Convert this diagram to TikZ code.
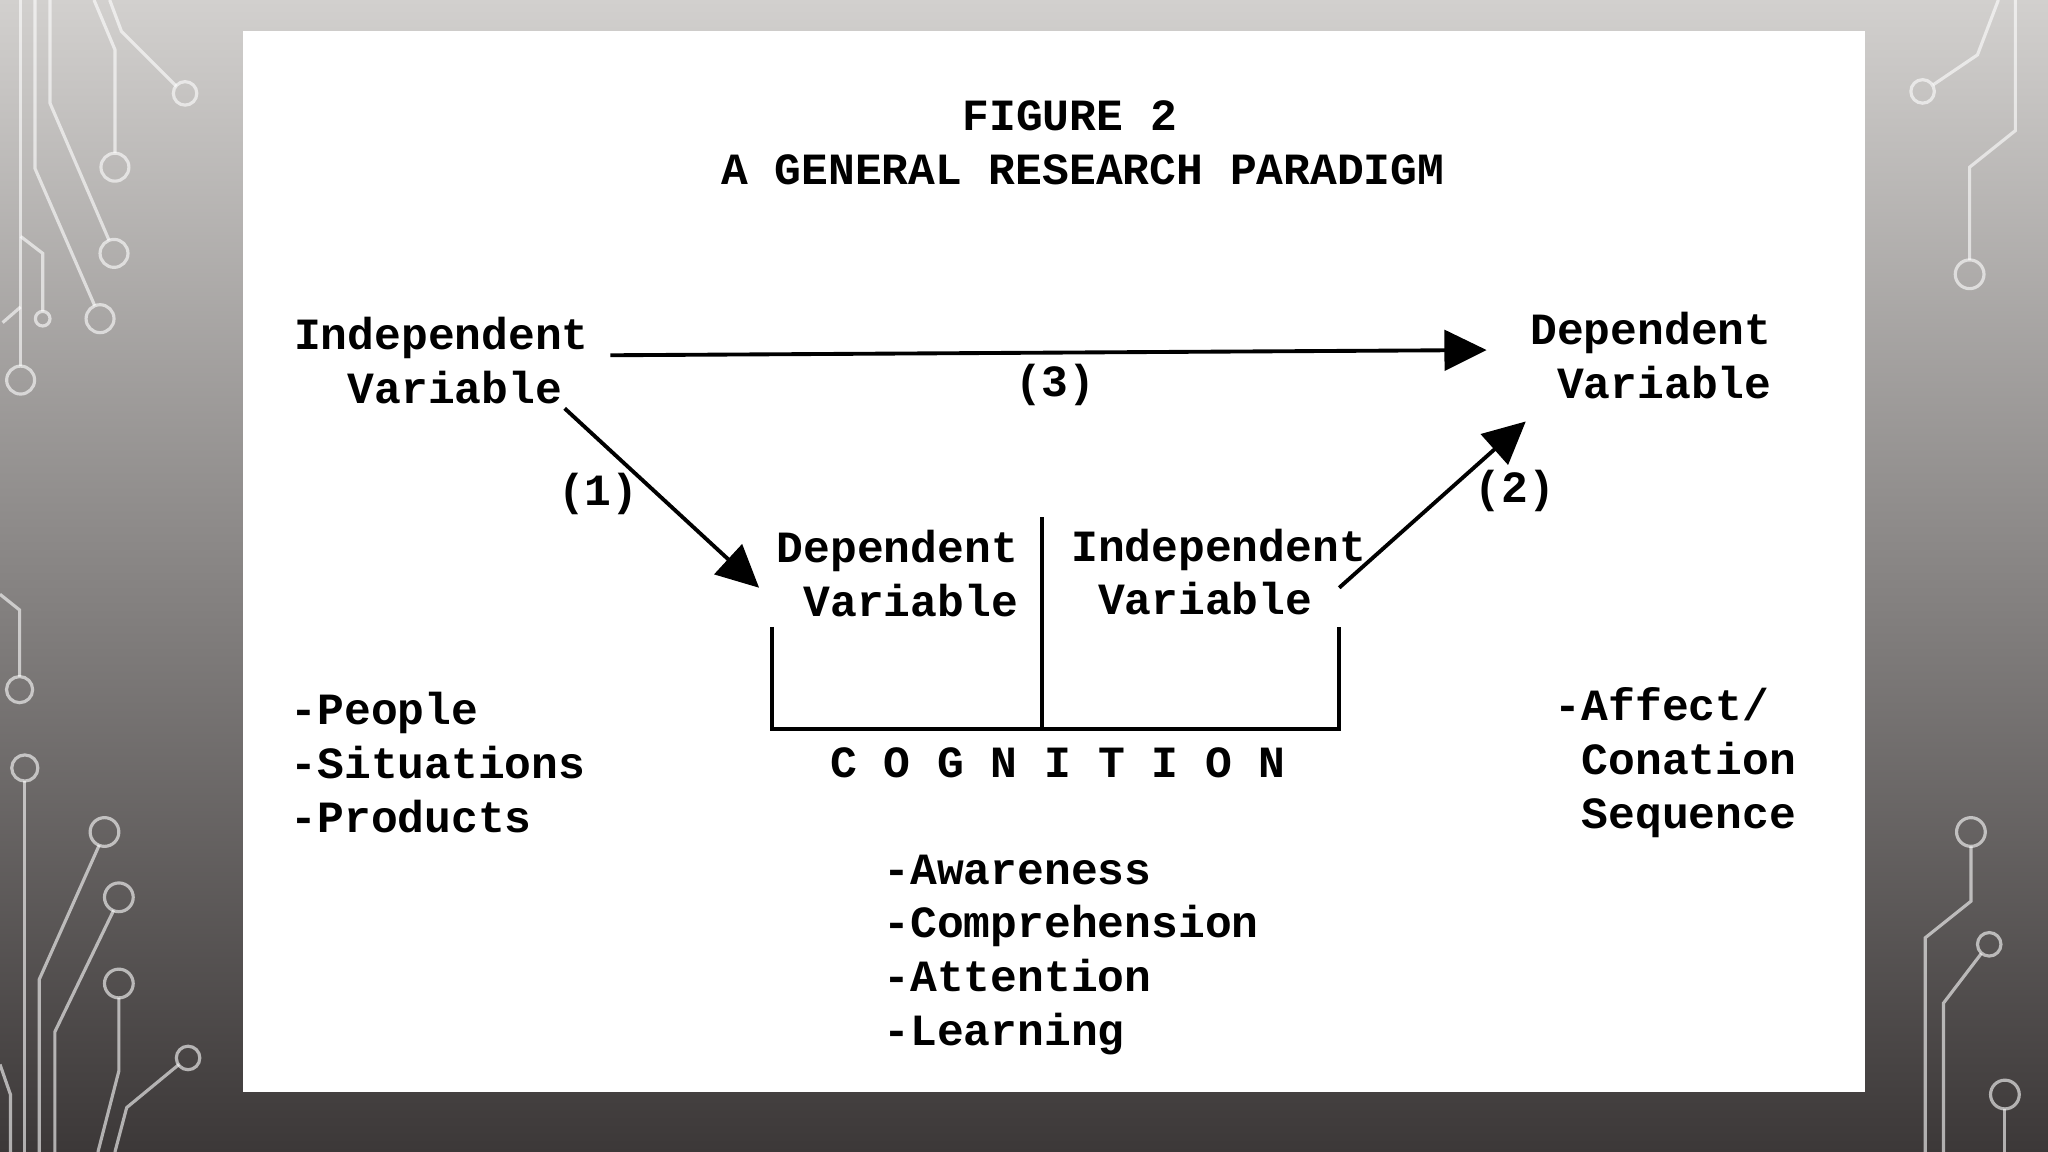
\documentclass[tikz,border=0pt]{standalone}
\usepackage{fontspec}
\setmonofont{Liberation Mono}
\usetikzlibrary{arrows.meta}
\definecolor{bgtop}{HTML}{D2D0CE}
\definecolor{bgmid}{HTML}{959391}
\definecolor{bgbot}{HTML}{3C3838}

\begin{document}
\begin{tikzpicture}[x=0.013061cm, y=-0.013061cm,
every node/.style={font=\fontsize{12.7}{15.3}\selectfont\ttfamily\bfseries, inner sep=0pt},
var/.style={align=center},
list/.style={align=left, anchor=west},
arr/.style={line width=1.1pt, -{Triangle[length=12pt,width=11.5pt]}},
bar/.style={line width=1.1pt},
trace/.style={white, opacity=0.6, line width=0.9pt}]
\useasboundingbox (0,0) rectangle (1568,882);
\shade[top color=bgtop, middle color=bgmid, bottom color=bgbot] (0,0) rectangle (1568,882);

% circuit traces, left
\draw[trace] (15.8,0) -- (15.8,280.3);
\draw[trace] (15.8,291) circle[radius=10.7];
\draw[trace] (15.8,181) -- (32.7,194) -- (32.7,238.4);
\draw[trace] (32.7,244) circle[radius=5.6];
\draw[trace] (2,247) -- (15.8,235);
\draw[trace] (26.8,0) -- (26.8,129) -- (72.5,234);
\draw[trace] (76.6,244) circle[radius=10.7];
\draw[trace] (38.3,0) -- (38.3,79) -- (83.5,184);
\draw[trace] (87.3,194) circle[radius=10.7];
\draw[trace] (72,0) -- (88,38) -- (88,117);
\draw[trace] (88,128) circle[radius=10.7];
\draw[trace] (84,0) -- (93,24) -- (135,66);
\draw[trace] (141.7,71.5) circle[radius=9];
\draw[trace] (0,455) -- (15,467) -- (15,518);
\draw[trace] (15,528) circle[radius=10];
\draw[trace] (19,588) circle[radius=10];
\draw[trace] (19,598) -- (19,882);
\draw[trace] (80,637) circle[radius=11];
\draw[trace] (76,647) -- (30,750) -- (30,882);
\draw[trace] (91,687) circle[radius=11];
\draw[trace] (87,697) -- (42,790) -- (42,882);
\draw[trace] (91,753) circle[radius=11];
\draw[trace] (91,764) -- (91,820) -- (75,882);
\draw[trace] (144,810) circle[radius=9];
\draw[trace] (137,815) -- (97,848) -- (88,882);
\draw[trace] (0,815) -- (8,838) -- (8,882);
% circuit traces, right
\draw[trace] (1472,70) circle[radius=9];
\draw[trace] (1480,65) -- (1514,42) -- (1530,0);
\draw[trace] (1543,0) -- (1543,100) -- (1508,128) -- (1508,199);
\draw[trace] (1508,210) circle[radius=11];
\draw[trace] (1509,637) circle[radius=11];
\draw[trace] (1509,648) -- (1509,690) -- (1474,718) -- (1474,882);
\draw[trace] (1523,723) circle[radius=9];
\draw[trace] (1517,730) -- (1488,768) -- (1488,882);
\draw[trace] (1535,838) circle[radius=11];
\draw[trace] (1535,849) -- (1535,882);

% the figure
\fill[white] (186,24) rectangle (1428,836);
\node (title) at (819,89) {FIGURE 2};
\node (subtitle) at (829,130) {A GENERAL RESEARCH PARADIGM};

\node[var] (indep) at (338,276) {Independent\\\hphantom{x}Variable};
\node[align=right] (dep) at (1264,272) {Dependent\\Variable};
\node[align=right] (mdep) at (687,439) {Dependent\\Variable};
\node[var] (mindep) at (933,438) {Independent\\Variable\hphantom{x}};
\node (cog) at (810,584) {C O G N I T I O N};

\node[list] (people) at (222,584) {-People\\-Situations\\-Products};
\node[list] (affect) at (1190,584) {-Affect/\\\ Conation\\\ Sequence};
\node[list] (aware) at (676,731) {-Awareness\\-Comprehension\\-Attention\\-Learning};

\draw[bar] (591,480) |- (1025,558) -- (1025,480);
\draw[bar] (798,396) -- (798,558);

\draw[arr] ([shift={(16,-4)}]indep.east) -- ([shift={(-33,-4)}]dep.west);
\node (l3) at (808,295) {(3)};
\draw[arr] ([shift={(-19,3)}]indep.south east) -- ([shift={(-13,11)}]mdep.west);
\node (l1) at (458,378) {(1)};
\draw[arr] ([shift={(-21,12)}]mindep.east) -- ([shift={(-3,17)}]dep.south west);
\node (l2) at (1160,376) {(2)};
\end{tikzpicture}
\end{document}
